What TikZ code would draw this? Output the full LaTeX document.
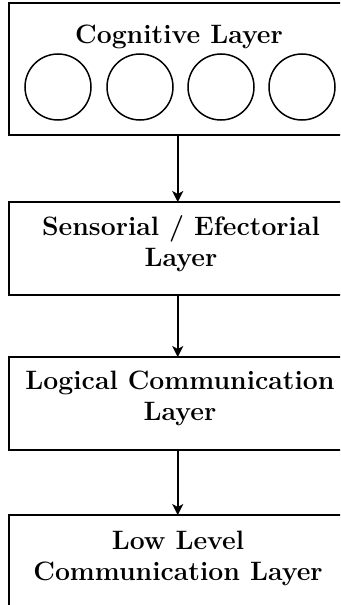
\documentclass[tikz,border=0pt]{standalone}
\usetikzlibrary{arrows.meta}
\begin{document}
\begin{tikzpicture}[x=1pt,y=-1pt,
  layerbox/.style={draw, line width=1.6pt, minimum width=337.5pt, inner sep=0pt, outer sep=0pt, anchor=north west},
  unit/.style={draw, circle, line width=1.5pt, minimum size=66pt, inner sep=0pt},
  lbl/.style={font=\fontsize{26.6}{31}\selectfont\bfseries, align=center, inner sep=0pt, anchor=base},
  arr/.style={line width=1.5pt, -{Stealth[length=11pt,width=11pt,inset=3pt]}}]
\useasboundingbox (0,0) rectangle (340,605);
\clip (0,0) rectangle (340,605);
\node[layerbox, minimum height=132pt] (cog) at (9,3) {};
\node[layerbox, minimum height=93pt] (sens) at (9,202) {};
\node[layerbox, minimum height=93pt] (logi) at (9,357) {};
\node[layerbox, minimum height=130pt] (low) at (9,515) {};
\node[lbl] (tcog) at (179,43) {Cognitive Layer};
\node[lbl] (tsens) at (181,266) {Sensorial / Efectorial\\Layer};
\node[lbl] (tlogi) at (180,420) {Logical Communication\\Layer};
\node[lbl] (tlow) at (178,580) {Low Level\\Communication Layer};
\node[unit] (c1) at (58,87) {};
\node[unit] (c2) at (140,87) {};
\node[unit] (c3) at (221,87) {};
\node[unit] (c4) at (302,87) {};
\draw[arr] (cog.south) -- (sens.north);
\draw[arr] (sens.south) -- (logi.north);
\draw[arr] (logi.south) -- (low.north);
\end{tikzpicture}
\end{document}
